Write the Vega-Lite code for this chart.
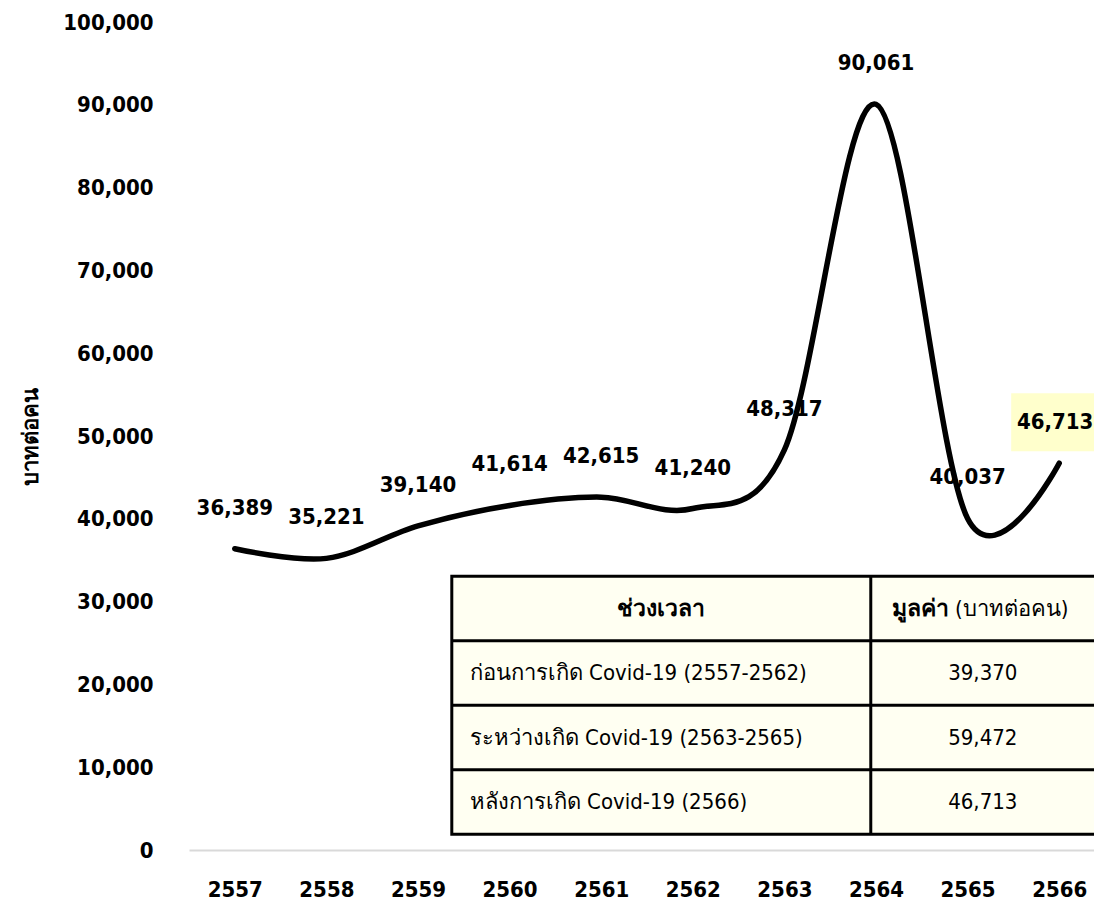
{
  "$schema": "https://vega.github.io/schema/vega-lite/v6.json",
  "width": 905,
  "height": 828,
  "autosize": {"type": "none"},
  "padding": {"left": 189, "top": 22, "right": 0, "bottom": 57},
  "background": "#ffffff",
  "config": {"view": {"stroke": null}, "font": "DejaVu Sans Condensed"},
  "datasets": {
    "series": [
      {"year": 2557, "value": 36389},
      {"year": 2558, "value": 35221},
      {"year": 2559, "value": 39140},
      {"year": 2560, "value": 41614},
      {"year": 2561, "value": 42615},
      {"year": 2562, "value": 41240},
      {"year": 2563, "value": 48317},
      {"year": 2564, "value": 90061},
      {"year": 2565, "value": 40037},
      {"year": 2566, "value": 46713}
    ],
    "table": [
      {"row": 1, "period": "ก่อนการเกิด Covid-19 (2557-2562)", "value": 39370},
      {"row": 2, "period": "ระหว่างเกิด Covid-19 (2563-2565)", "value": 59472},
      {"row": 3, "period": "หลังการเกิด Covid-19 (2566)", "value": 46713}
    ],
    "edges": [{"edge": 0.5}, {"edge": 1.5}, {"edge": 2.5}],
    "frame": [{"part": "frame"}]
  },
  "resolve": {"scale": {"y": "independent"}},
  "layer": [
    {
      "data": {"name": "series"},
      "encoding": {
        "x": {
          "field": "year",
          "type": "quantitative",
          "scale": {"domain": [2556.5, 2566.38], "nice": false, "zero": false},
          "axis": {
            "title": null,
            "values": [2557, 2558, 2559, 2560, 2561, 2562, 2563, 2564, 2565, 2566],
            "format": "d",
            "grid": false,
            "ticks": false,
            "domainColor": "#d9d9d9",
            "domainWidth": 2,
            "labelPadding": 29,
            "labelFontSize": 22,
            "labelFontWeight": "bold",
            "labelColor": "#000000",
            "labelFlush": false,
            "labelOverlap": false
          }
        },
        "y": {
          "field": "value",
          "type": "quantitative",
          "scale": {"domain": [0, 100000], "nice": false},
          "axis": {
            "title": "บาทต่อคน",
            "values": [0, 10000, 20000, 30000, 40000, 50000, 60000, 70000, 80000, 90000, 100000],
            "format": ",d",
            "grid": false,
            "domain": false,
            "ticks": false,
            "labelPadding": 36,
            "labelFontSize": 22,
            "labelFontWeight": "bold",
            "labelColor": "#000000",
            "labelOverlap": false,
            "titleFontSize": 22,
            "titleFontWeight": "bold",
            "titleColor": "#000000",
            "titlePadding": 20
          }
        }
      },
      "layer": [
        {
          "transform": [{"filter": "datum.year == 2566"}],
          "mark": {"type": "point", "shape": "M-1,-0.66L1,-0.66L1,0.66L-1,0.66Z", "size": 7744, "filled": true, "fill": "#FFFFCC", "opacity": 1, "strokeWidth": 0, "xOffset": -4, "yOffset": -41}
        },
        {
          "transform": [{"filter": "datum.year < 2566"}],
          "mark": {"type": "text", "dy": -41, "baseline": "middle", "fontSize": 22, "fontWeight": "bold", "color": "#000000"},
          "encoding": {"text": {"field": "value", "format": ",d"}}
        },
        {
          "transform": [{"filter": "datum.year == 2566"}],
          "mark": {"type": "text", "dy": -41, "dx": -4, "baseline": "middle", "fontSize": 22, "fontWeight": "bold", "color": "#000000"},
          "encoding": {"text": {"field": "value", "format": ",d"}}
        },
        {
          "mark": {"type": "line", "interpolate": "cardinal", "color": "#000000", "strokeWidth": 5.5, "strokeCap": "round"}
        }
      ]
    },
    {
      "layer": [
        {
          "data": {"name": "frame"},
          "mark": {"type": "rect", "fill": "#FFFFF2", "stroke": "#000000", "strokeWidth": 3, "clip": true},
          "encoding": {
            "x": {"datum": 2559.369, "type": "quantitative"},
            "x2": {"datum": 2566.7},
            "y": {"datum": -0.5, "type": "quantitative", "scale": {"domain": [-9.093, 3.744], "reverse": true, "nice": false, "zero": false}, "axis": null},
            "y2": {"datum": 3.5}
          }
        },
        {
          "data": {"name": "edges"},
          "mark": {"type": "rule", "color": "#000000", "strokeWidth": 3, "clip": true},
          "encoding": {
            "x": {"datum": 2559.369, "type": "quantitative"},
            "x2": {"datum": 2566.7},
            "y": {"field": "edge", "type": "quantitative", "scale": {"domain": [-9.093, 3.744], "reverse": true, "nice": false, "zero": false}, "axis": null}
          }
        },
        {
          "data": {"name": "frame"},
          "mark": {"type": "rule", "color": "#000000", "strokeWidth": 3},
          "encoding": {
            "x": {"datum": 2563.943, "type": "quantitative"},
            "y": {"datum": -0.5, "type": "quantitative", "scale": {"domain": [-9.093, 3.744], "reverse": true, "nice": false, "zero": false}, "axis": null},
            "y2": {"datum": 3.5}
          }
        },
        {
          "data": {"name": "frame"},
          "mark": {"type": "text", "align": "center", "baseline": "middle", "fontSize": 23, "fontWeight": "bold", "color": "#000000"},
          "encoding": {
            "x": {"datum": 2561.656, "type": "quantitative"},
            "y": {"datum": 0, "type": "quantitative", "scale": {"domain": [-9.093, 3.744], "reverse": true, "nice": false, "zero": false}, "axis": null},
            "text": {"value": "ช่วงเวลา"}
          }
        },
        {
          "data": {"name": "frame"},
          "mark": {"type": "text", "align": "right", "baseline": "middle", "dx": -3, "fontSize": 23, "fontWeight": "bold", "color": "#000000"},
          "encoding": {
            "x": {"datum": 2564.83, "type": "quantitative"},
            "y": {"datum": 0, "type": "quantitative", "scale": {"domain": [-9.093, 3.744], "reverse": true, "nice": false, "zero": false}, "axis": null},
            "text": {"value": "มูลค่า"}
          }
        },
        {
          "data": {"name": "frame"},
          "mark": {"type": "text", "align": "left", "baseline": "middle", "dx": 3, "fontSize": 22, "color": "#000000"},
          "encoding": {
            "x": {"datum": 2564.83, "type": "quantitative"},
            "y": {"datum": 0, "type": "quantitative", "scale": {"domain": [-9.093, 3.744], "reverse": true, "nice": false, "zero": false}, "axis": null},
            "text": {"value": "(บาทต่อคน)"}
          }
        },
        {
          "data": {"name": "table"},
          "mark": {"type": "text", "align": "left", "baseline": "middle", "dx": 18, "fontSize": 22, "color": "#000000"},
          "encoding": {
            "x": {"datum": 2559.369, "type": "quantitative"},
            "y": {"field": "row", "type": "quantitative", "scale": {"domain": [-9.093, 3.744], "reverse": true, "nice": false, "zero": false}, "axis": null},
            "text": {"field": "period"}
          }
        },
        {
          "data": {"name": "table"},
          "mark": {"type": "text", "align": "center", "baseline": "middle", "fontSize": 22, "color": "#000000"},
          "encoding": {
            "x": {"datum": 2565.166, "type": "quantitative"},
            "y": {"field": "row", "type": "quantitative", "scale": {"domain": [-9.093, 3.744], "reverse": true, "nice": false, "zero": false}, "axis": null},
            "text": {"field": "value", "format": ",d"}
          }
        }
      ]
    }
  ]
}
